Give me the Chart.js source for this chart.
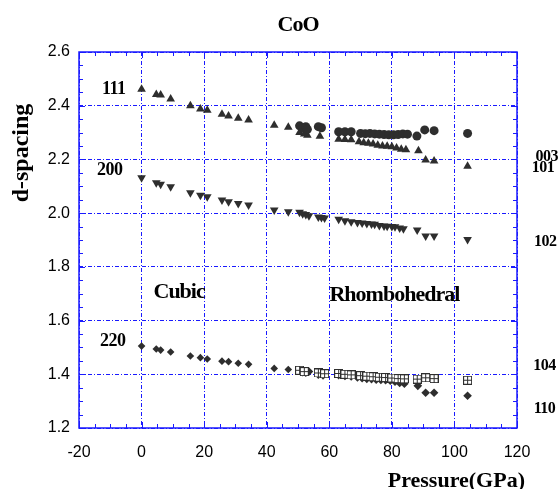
<!DOCTYPE html>
<html>
<head>
<meta charset="utf-8">
<script src="https://cdn.jsdelivr.net/npm/chart.js@4"></script>
<style>
  html, body { margin: 0; padding: 0; background: #fff; }
  #wrap { width: 559px; height: 489px; }
</style>
</head>
<body>
<div id="wrap"><canvas id="chart" width="559" height="489"></canvas></div>
<script>
// cubic phase (pressure in GPa, d-spacing in A)
const pCubic = [0, 4.7, 6.1, 9.3, 15.6, 18.8, 21, 25.7, 27.8, 30.9, 34.2, 42.4, 46.9];
const d111 = [2.461, 2.442, 2.44, 2.425, 2.40, 2.388, 2.383, 2.368, 2.362, 2.353, 2.347, 2.327, 2.32];
const d200 = [2.132, 2.113, 2.108, 2.098, 2.076, 2.067, 2.061, 2.049, 2.042, 2.036, 2.03, 2.012, 2.005];
const d220 = [1.505, 1.494, 1.49, 1.483, 1.468, 1.462, 1.457, 1.449, 1.447, 1.441, 1.437, 1.422, 1.418];

// rhombohedral phase
const p003 = [50.5, 51.5, 52.5, 53, 56.5, 57.5, 63, 65, 67, 70, 71.5, 73, 74.5, 76, 77.5, 79, 80.5, 82, 83.5, 85, 88, 90.5, 93.5, 104.2];
const d003 = [2.325, 2.318, 2.322, 2.312, 2.322, 2.318, 2.303, 2.303, 2.303, 2.297, 2.296, 2.297, 2.295, 2.294, 2.293, 2.292, 2.292, 2.293, 2.295, 2.294, 2.287, 2.31, 2.307, 2.297];

const p101 = [50.5, 52, 53, 57, 63, 65, 67, 69.5, 71, 72.5, 74, 75.5, 77, 78.5, 80, 81.5, 83, 84.5, 88.5, 90.8, 93.5, 104.2];
const d101 = [2.30, 2.295, 2.29, 2.286, 2.275, 2.274, 2.273, 2.266, 2.262, 2.26, 2.257, 2.253, 2.25, 2.249, 2.247, 2.243, 2.238, 2.236, 2.232, 2.198, 2.194, 2.175];

const p102 = [50.5, 51.5, 52.5, 53.5, 56.5, 57.5, 58.5, 63, 65, 67, 69, 70.5, 72, 73.5, 74.5, 76, 77.5, 78.5, 80, 81, 82.5, 83.7, 88.1, 90.8, 93.5, 104.2];
const d102 = [2.003, 1.998, 1.995, 1.99, 1.986, 1.984, 1.982, 1.977, 1.972, 1.968, 1.965, 1.963, 1.961, 1.96, 1.959, 1.954, 1.952, 1.951, 1.95, 1.949, 1.945, 1.942, 1.937, 1.915, 1.915, 1.902];

const p104 = [50.5, 52, 56.5, 58.5, 63, 65, 67, 70, 72, 74, 76, 78, 80, 82, 84, 88.1, 90.8, 93.5, 104.2];
const d104 = [1.415, 1.41, 1.405, 1.402, 1.403, 1.40, 1.398, 1.395, 1.393, 1.391, 1.389, 1.388, 1.386, 1.384, 1.383, 1.382, 1.387, 1.384, 1.378];

const p110 = [50.5, 51.5, 52.5, 53.5, 56.5, 58, 63, 65, 67, 69, 70.5, 72, 73.5, 75, 76.5, 78, 79.5, 81, 82.5, 84, 88.3, 90.8, 93.5, 104.2];
const d110 = [1.412, 1.408, 1.406, 1.41, 1.398, 1.396, 1.397, 1.394, 1.392, 1.388, 1.385, 1.383, 1.382, 1.38, 1.379, 1.378, 1.376, 1.372, 1.368, 1.365, 1.357, 1.331, 1.331, 1.32];

// text labels placed in data units
const peakLabels = ["111", "200", "220"];
const peakLabelX = [-8.9, -10.2, -9.2];
const peakLabelY = [2.46, 2.16, 1.522];
const rhombLabels = ["003", "101", "102", "104", "110"];
const rhombLabelX = [129.5, 128.3, 129, 128.8, 128.8];
const rhombLabelY = [2.208, 2.168, 1.892, 1.431, 1.27];
const phaseLabels = ["Cubic", "Rhombohedral"];
const phaseLabelX = [12, 80.8];
const phaseLabelY = [1.705, 1.695];

const ink = "#2e2e2e";
const blue = "#1a1aff";

const pts = (xs, ys) => xs.map((x, i) => ({ x: x, y: ys[i] }));

// open square with a cross inside, for the 104 reflection
const boxMark = document.createElement("canvas");
boxMark.width = 9; boxMark.height = 9;
(() => {
  const c = boxMark.getContext("2d");
  c.fillStyle = "#fff";
  c.fillRect(0, 0, 9, 9);
  c.strokeStyle = ink;
  c.lineWidth = 1;
  c.strokeRect(0.5, 0.5, 8, 8);
  c.beginPath();
  c.moveTo(4.5, 1); c.lineTo(4.5, 8);
  c.moveTo(1, 4.5); c.lineTo(8, 4.5);
  c.stroke();
})();

const up = { pointStyle: "triangle", pointRadius: 5, backgroundColor: ink, borderColor: ink, borderWidth: 0 };
const down = { pointStyle: "triangle", rotation: 180, pointRadius: 5, backgroundColor: ink, borderColor: ink, borderWidth: 0 };
const dia = { pointStyle: "rectRot", pointRadius: 3.8, backgroundColor: ink, borderColor: ink, borderWidth: 0 };
const dot = { pointStyle: "circle", pointRadius: 4.5, backgroundColor: ink, borderColor: ink, borderWidth: 0 };

const decor = {
  id: "decor",
  beforeDatasetsDraw(chart) {
    const { ctx, chartArea: a, scales: { x, y } } = chart;
    ctx.save();
    ctx.strokeStyle = blue;
    ctx.lineWidth = 1;
    ctx.beginPath();
    for (let v = -20; v <= 120; v += 5) {
      const px = Math.round(x.getPixelForValue(v)) + 0.5;
      const len = v % 20 === 0 ? 6 : 4;
      ctx.moveTo(px, a.bottom); ctx.lineTo(px, a.bottom - len);
      ctx.moveTo(px, a.top); ctx.lineTo(px, a.top + len);
    }
    for (let i = 0; i <= 28; i++) {
      const py = Math.round(y.getPixelForValue(1.2 + i * 0.05)) + 0.5;
      const len = i % 4 === 0 ? 6 : 4;
      ctx.moveTo(a.left, py); ctx.lineTo(a.left + len, py);
      ctx.moveTo(a.right, py); ctx.lineTo(a.right - len, py);
    }
    ctx.stroke();
    ctx.lineWidth = 1.5;
    ctx.strokeRect(a.left, a.top, a.right - a.left, a.bottom - a.top);
    ctx.restore();
  },
  afterDraw(chart) {
    const { ctx, chartArea: a, scales: { x, y } } = chart;
    ctx.save();
    ctx.fillStyle = "#000";
    ctx.textAlign = "center";
    ctx.textBaseline = "middle";

    ctx.letterSpacing = "-1px";
    ctx.font = 'bold 22px "Liberation Serif"';
    ctx.fillText("CoO", (a.left + a.right) / 2, 25);
    phaseLabels.forEach((t, i) => {
      ctx.fillText(t, x.getPixelForValue(phaseLabelX[i]), y.getPixelForValue(phaseLabelY[i]));
    });

    ctx.letterSpacing = "0px";
    ctx.textAlign = "right";
    ctx.fillText("Pressure(GPa)", a.right + 8, 481);
    ctx.textAlign = "center";
    ctx.save();
    ctx.font = 'bold 24px "Liberation Serif"';
    ctx.translate(22, 153);
    ctx.rotate(-Math.PI / 2);
    ctx.fillText("d-spacing", 0, 0);
    ctx.restore();

    ctx.letterSpacing = "-0.5px";
    ctx.font = 'bold 18px "Liberation Serif"';
    peakLabels.forEach((t, i) => {
      ctx.fillText(t, x.getPixelForValue(peakLabelX[i]), y.getPixelForValue(peakLabelY[i]));
    });
    ctx.font = 'bold 16px "Liberation Serif"';
    rhombLabels.forEach((t, i) => {
      ctx.fillText(t, x.getPixelForValue(rhombLabelX[i]), y.getPixelForValue(rhombLabelY[i]));
    });
    ctx.restore();
  }
};

new Chart(document.getElementById("chart"), {
  type: "scatter",
  data: {
    datasets: [
      { label: "111", data: pts(pCubic, d111), ...up },
      { label: "200", data: pts(pCubic, d200), ...down },
      { label: "220", data: pts(pCubic, d220), ...dia },
      { label: "104", data: pts(p104, d104), pointStyle: boxMark },
      { label: "110", data: pts(p110, d110), ...dia, pointRadius: 4.3 },
      { label: "003", data: pts(p003, d003), ...dot },
      { label: "101", data: pts(p101, d101), ...up },
      { label: "102", data: pts(p102, d102), ...down }
    ]
  },
  options: {
    responsive: false,
    animation: false,
    layout: { padding: { top: 52, right: 42, left: 0, bottom: 0 } },
    plugins: { legend: { display: false }, tooltip: { enabled: false } },
    scales: {
      x: {
        type: "linear",
        min: -20, max: 120,
        afterFit: s => { s.height = 61; },
        ticks: { stepSize: 20, color: "#000", padding: 15, font: { family: "Liberation Sans", size: 16 } },
        grid: { color: blue, lineWidth: 1, drawTicks: false },
        border: { display: false, dash: [4, 2, 1, 2] }
      },
      y: {
        type: "linear",
        min: 1.2, max: 2.6,
        afterFit: s => { s.width = 79; },
        ticks: { stepSize: 0.2, color: "#000", padding: 9, font: { family: "Liberation Sans", size: 16 } },
        grid: { color: blue, lineWidth: 1, drawTicks: false },
        border: { display: false, dash: [4, 2, 1, 2] }
      }
    }
  },
  plugins: [decor]
});
</script>
</body>
</html>
